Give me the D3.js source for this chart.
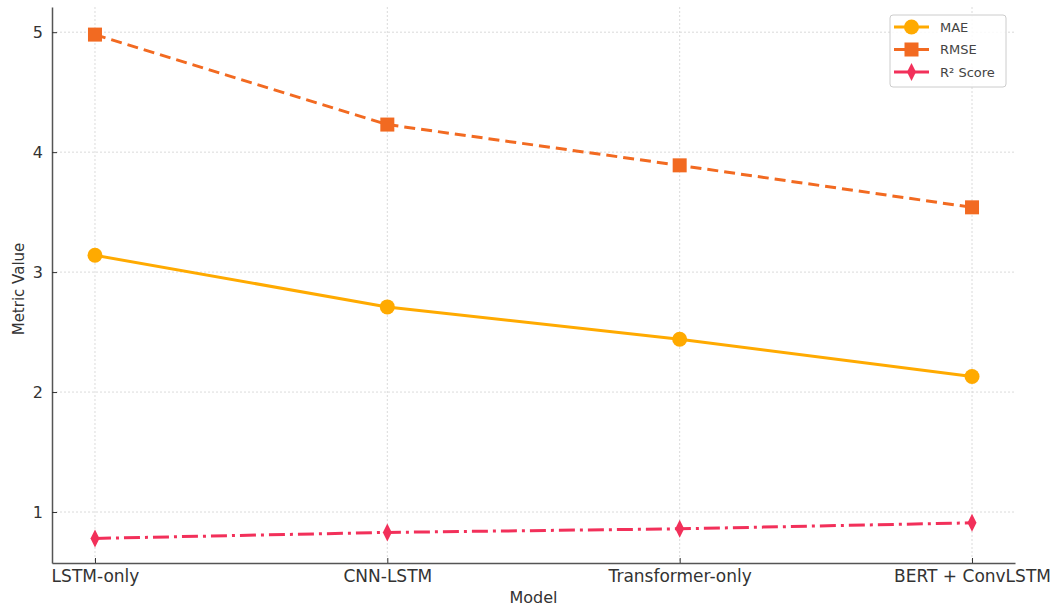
<!DOCTYPE html>
<html><head><meta charset="utf-8">
<script src="https://cdn.jsdelivr.net/npm/d3@7"></script>
<style>body{margin:0;background:#fff;} svg{display:block;font-family:"DejaVu Sans",sans-serif;}</style>
</head><body>
<svg id="c" width="1057" height="606"></svg>
<script>
const models = ["LSTM-only", "CNN-LSTM", "Transformer-only", "BERT + ConvLSTM"];
const maeValues = [3.14, 2.71, 2.44, 2.13];
const rmseValues = [4.98, 4.23, 3.89, 3.54];
const r2Values = [0.78, 0.83, 0.86, 0.91];
const yTicks = [1, 2, 3, 4, 5];
const seriesNames = ["MAE", "RMSE", "R² Score"];

const svg = d3.select("#c");
const L = 52, R = 1015, T = 7, B = 563;
const x = d3.scaleLinear().domain([-0.147, 3.147]).range([L, R]);
const y = d3.scaleLinear().domain([0.575, 5.21]).range([B, T]);

// grid
const g = svg.append("g");
g.selectAll(".gy").data(yTicks).enter().append("line")
  .attr("x1", L).attr("x2", R).attr("y1", d => y(d)).attr("y2", d => y(d))
  .attr("stroke", "#d0d0d0").attr("stroke-width", 0.8).attr("stroke-dasharray", "2,2");
g.selectAll(".gx").data(models).enter().append("line")
  .attr("x1", (d, i) => x(i)).attr("x2", (d, i) => x(i)).attr("y1", T).attr("y2", B)
  .attr("stroke", "#d0d0d0").attr("stroke-width", 0.8).attr("stroke-dasharray", "2,2");

// axes
const xAxis = d3.axisBottom(x).tickValues(d3.range(models.length)).tickFormat(i => models[i]).tickSizeInner(-5).tickSizeOuter(0).tickPadding(7);
const yAxis = d3.axisLeft(y).tickValues(yTicks).tickFormat(d3.format("d")).tickSizeInner(-5).tickSizeOuter(0).tickPadding(9);
const xa = svg.append("g").attr("transform", `translate(0,${B})`).call(xAxis);
const ya = svg.append("g").attr("transform", `translate(${L},0)`).call(yAxis);
[xa, ya].forEach(a => {
  a.select(".domain").attr("stroke", "#555").attr("stroke-width", 1.5);
  a.selectAll(".tick line").attr("stroke", "#333").attr("stroke-width", 1);
  a.selectAll("text").attr("fill", "#333").attr("font-family", "DejaVu Sans, sans-serif");
});
xa.selectAll("text").attr("font-size", 17).attr("dy", "0.71em");
ya.selectAll("text").attr("font-size", 16);

svg.append("text").attr("x", (L + R) / 2).attr("y", 603).attr("text-anchor", "middle")
  .attr("font-size", 16).attr("fill", "#333").text("Model");
svg.append("text").attr("transform", `translate(24,${(T + B) / 2 + 4}) rotate(-90)`).attr("text-anchor", "middle")
  .attr("font-size", 15).attr("fill", "#333").text("Metric Value");

const series = [
  {name: seriesNames[0], vals: maeValues, color: "#ffaa00", dash: null, marker: "circle"},
  {name: seriesNames[1], vals: rmseValues, color: "#f26a21", dash: "11,6", marker: "square"},
  {name: seriesNames[2], vals: r2Values, color: "#f2305a", dash: "16,5,3,5", marker: "diamond"}
];
const line = d3.line().x((d, i) => x(i)).y(d => y(d));

function drawMarker(sel, type, color) {
  if (type === "circle") sel.append("circle").attr("r", 7.5).attr("fill", color);
  else if (type === "square") sel.append("rect").attr("x", -7).attr("y", -7).attr("width", 14).attr("height", 14).attr("fill", color);
  else sel.append("path").attr("d", "M0,-9 L4.5,0 L0,9 L-4.5,0 Z").attr("fill", color);
}

series.forEach(s => {
  svg.append("path").datum(s.vals).attr("d", line).attr("fill", "none")
    .attr("stroke", s.color).attr("stroke-width", 3).attr("stroke-dasharray", s.dash);
  s.vals.forEach((v, i) => {
    const m = svg.append("g").attr("transform", `translate(${x(i)},${y(v)})`);
    drawMarker(m, s.marker, s.color);
  });
});

// legend
const lg = svg.append("g").attr("transform", "translate(890,15)");
lg.append("rect").attr("width", 116).attr("height", 72).attr("rx", 3)
  .attr("fill", "white").attr("fill-opacity", 0.85).attr("stroke", "#ccc").attr("stroke-width", 1);
series.forEach((s, i) => {
  const yy = 12 + i * 22.5;
  lg.append("line").attr("x1", 4).attr("x2", 39).attr("y1", yy).attr("y2", yy)
    .attr("stroke", s.color).attr("stroke-width", 3);
  const m = lg.append("g").attr("transform", `translate(21.5,${yy})`);
  drawMarker(m, s.marker, s.color);
  lg.append("text").attr("x", 50).attr("y", yy).attr("dy", "0.35em")
    .attr("font-size", 13).attr("fill", "#444").text(s.name);
});
</script>
</body></html>
